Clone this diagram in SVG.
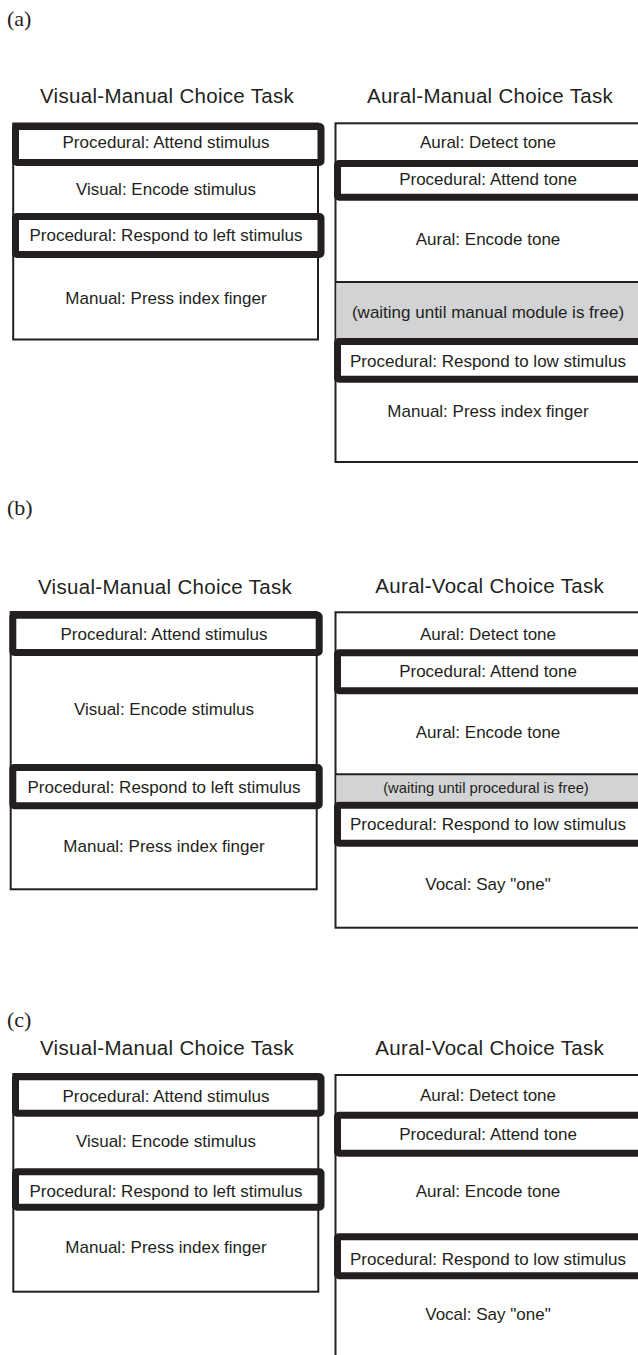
<svg xmlns="http://www.w3.org/2000/svg" width="638" height="1355" viewBox="0 0 638 1355">
  <style>
    .frame { fill: #ffffff; stroke: #231f20; stroke-width: 2; }
    .rule { stroke: #231f20; stroke-width: 2; fill: none; }
    .proc { fill: #ffffff; stroke: #231f20; stroke-width: 7; stroke-linejoin: round; }
    .wait { fill: #d1d3d4; stroke: none; }
    .label { font-family: "Liberation Sans", Arial, sans-serif; font-size: 17px; fill: #231f20; text-anchor: middle; }
    .small { font-size: 14.8px; }
    .title { font-family: "Liberation Sans", Arial, sans-serif; font-size: 20.5px; letter-spacing: 0.3px; fill: #231f20; text-anchor: middle; }
    .tag { font-family: "Liberation Serif", "Times New Roman", serif; font-size: 22px; fill: #231f20; }
  </style>
  <rect width="638" height="1355" fill="#ffffff"/>

  <!-- Panel (a): visual-manual vs aural-manual -->
  <g id="panel-a">
    <text class="tag" x="7" y="26">(a)</text>

    <g id="a-visual-manual">
      <text class="title" x="167" y="103">Visual-Manual Choice Task</text>
      <rect class="frame" x="13.2" y="123.5" width="304.8" height="216"/>
      <g id="a-vm-attend">
        <rect class="proc" x="15.5" y="126.5" width="305.5" height="36" rx="1.5"/>
        <text class="label" x="166" y="148">Procedural: Attend stimulus</text>
      </g>
      <g id="a-vm-encode">
        <text class="label" x="166" y="195">Visual: Encode stimulus</text>
      </g>
      <g id="a-vm-respond">
        <rect class="proc" x="15.5" y="216.5" width="305.5" height="38" rx="1.5"/>
        <text class="label" x="166" y="241">Procedural: Respond to left stimulus</text>
      </g>
      <g id="a-vm-press">
        <text class="label" x="166" y="304">Manual: Press index finger</text>
      </g>
    </g>

    <g id="a-aural-manual">
      <text class="title" x="490" y="103">Aural-Manual Choice Task</text>
      <rect class="frame" x="335.5" y="123.3" width="306" height="338.7"/>
      <g id="a-am-detect">
        <text class="label" x="488" y="148">Aural: Detect tone</text>
      </g>
      <g id="a-am-attend">
        <rect class="proc" x="337.5" y="163.5" width="306" height="33.7" rx="1.5"/>
        <text class="label" x="488" y="185">Procedural: Attend tone</text>
      </g>
      <g id="a-am-encode">
        <text class="label" x="488" y="245">Aural: Encode tone</text>
      </g>
      <g id="a-am-wait">
        <rect class="wait" x="336.5" y="282" width="305" height="56"/>
        <line class="rule" x1="335.5" y1="282" x2="641" y2="282"/>
        <text class="label" x="488" y="318">(waiting until manual module is free)</text>
      </g>
      <g id="a-am-respond">
        <rect class="proc" x="337.5" y="341.5" width="306" height="37.7" rx="1.5"/>
        <text class="label" x="488" y="366.7">Procedural: Respond to low stimulus</text>
      </g>
      <g id="a-am-press">
        <text class="label" x="488" y="416.7">Manual: Press index finger</text>
      </g>
    </g>
  </g>

  <!-- Panel (b): visual-manual vs aural-vocal, procedural bottleneck -->
  <g id="panel-b">
    <text class="tag" x="7" y="515">(b)</text>

    <g id="b-visual-manual">
      <text class="title" x="165" y="594">Visual-Manual Choice Task</text>
      <rect class="frame" x="10.7" y="612" width="306" height="277.3"/>
      <g id="b-vm-attend">
        <rect class="proc" x="12.8" y="615.2" width="306.4" height="37.3" rx="1.5"/>
        <text class="label" x="164" y="640">Procedural: Attend stimulus</text>
      </g>
      <g id="b-vm-encode">
        <text class="label" x="164" y="715">Visual: Encode stimulus</text>
      </g>
      <g id="b-vm-respond">
        <rect class="proc" x="12.8" y="767.5" width="306.4" height="38.3" rx="1.5"/>
        <text class="label" x="164" y="793.3">Procedural: Respond to left stimulus</text>
      </g>
      <g id="b-vm-press">
        <text class="label" x="164" y="852.3">Manual: Press index finger</text>
      </g>
    </g>

    <g id="b-aural-vocal">
      <text class="title" x="489.7" y="593.3">Aural-Vocal Choice Task</text>
      <rect class="frame" x="335.5" y="612.3" width="306" height="315.4"/>
      <g id="b-av-detect">
        <text class="label" x="488" y="640">Aural: Detect tone</text>
      </g>
      <g id="b-av-attend">
        <rect class="proc" x="337.5" y="652.8" width="306" height="38" rx="1.5"/>
        <text class="label" x="488" y="677.3">Procedural: Attend tone</text>
      </g>
      <g id="b-av-encode">
        <text class="label" x="488" y="738.3">Aural: Encode tone</text>
      </g>
      <g id="b-av-wait">
        <rect class="wait" x="336.5" y="774.3" width="305" height="27.4"/>
        <line class="rule" x1="335.5" y1="774.3" x2="641" y2="774.3"/>
        <text class="label small" x="486" y="793.3">(waiting until procedural is free)</text>
      </g>
      <g id="b-av-respond">
        <rect class="proc" x="337.5" y="805.2" width="306" height="38" rx="1.5"/>
        <text class="label" x="488" y="830">Procedural: Respond to low stimulus</text>
      </g>
      <g id="b-av-say">
        <text class="label" x="488" y="890">Vocal: Say "one"</text>
      </g>
    </g>
  </g>

  <!-- Panel (c): visual-manual vs aural-vocal, no waiting -->
  <g id="panel-c">
    <text class="tag" x="7" y="1027">(c)</text>

    <g id="c-visual-manual">
      <text class="title" x="167" y="1055">Visual-Manual Choice Task</text>
      <rect class="frame" x="13.3" y="1074" width="305" height="217.7"/>
      <g id="c-vm-attend">
        <rect class="proc" x="15.5" y="1076.8" width="305.5" height="36.4" rx="1.5"/>
        <text class="label" x="166" y="1101.7">Procedural: Attend stimulus</text>
      </g>
      <g id="c-vm-encode">
        <text class="label" x="166" y="1147.3">Visual: Encode stimulus</text>
      </g>
      <g id="c-vm-respond">
        <rect class="proc" x="15.5" y="1171.8" width="305.5" height="35.4" rx="1.5"/>
        <text class="label" x="166" y="1196.7">Procedural: Respond to left stimulus</text>
      </g>
      <g id="c-vm-press">
        <text class="label" x="166" y="1253.3">Manual: Press index finger</text>
      </g>
    </g>

    <g id="c-aural-vocal">
      <text class="title" x="489.7" y="1055">Aural-Vocal Choice Task</text>
      <rect class="frame" x="335.5" y="1075" width="306" height="300"/>
      <g id="c-av-detect">
        <text class="label" x="488" y="1101">Aural: Detect tone</text>
      </g>
      <g id="c-av-attend">
        <rect class="proc" x="337.5" y="1115.2" width="306" height="38" rx="1.5"/>
        <text class="label" x="488" y="1140">Procedural: Attend tone</text>
      </g>
      <g id="c-av-encode">
        <text class="label" x="488" y="1196.7">Aural: Encode tone</text>
      </g>
      <g id="c-av-respond">
        <rect class="proc" x="337.5" y="1236.8" width="306" height="39" rx="1.5"/>
        <text class="label" x="488" y="1265">Procedural: Respond to low stimulus</text>
      </g>
      <g id="c-av-say">
        <text class="label" x="488" y="1320">Vocal: Say "one"</text>
      </g>
    </g>
  </g>
</svg>
